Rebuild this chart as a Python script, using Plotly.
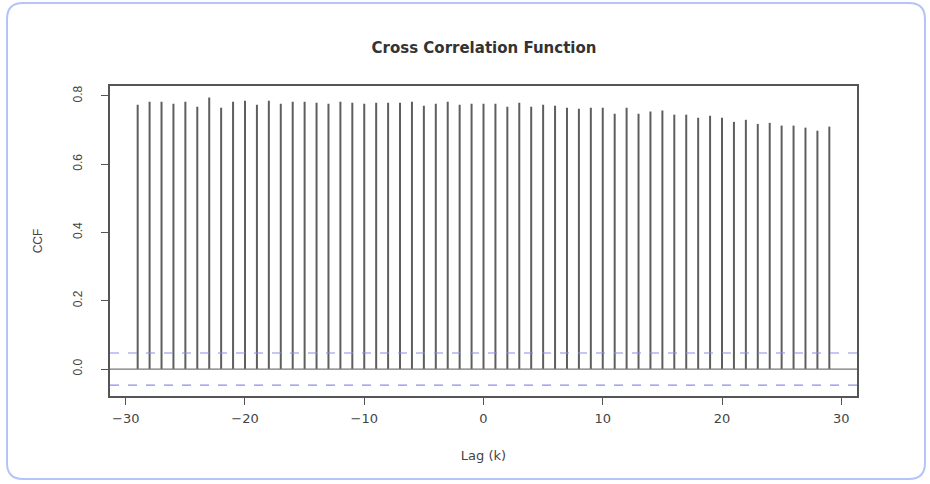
import plotly.graph_objects as go

lags = list(range(-29, 30))
ccf = [0.774, 0.783, 0.783, 0.777, 0.783, 0.768, 0.795, 0.765, 0.783, 0.786,
       0.774, 0.786, 0.777, 0.783, 0.783, 0.780, 0.777, 0.783, 0.780, 0.777,
       0.780, 0.780, 0.780, 0.783, 0.771, 0.777, 0.783, 0.774, 0.777, 0.777,
       0.777, 0.768, 0.780, 0.768, 0.774, 0.771, 0.765, 0.762, 0.765, 0.765,
       0.748, 0.765, 0.748, 0.754, 0.757, 0.745, 0.745, 0.736, 0.742, 0.736,
       0.724, 0.730, 0.718, 0.721, 0.713, 0.713, 0.707, 0.698, 0.710]
ci = 0.047
x_ticks = [-30, -20, -10, 0, 10, 20, 30]
y_ticks = [0.0, 0.2, 0.4, 0.6, 0.8]
y_tick_labels = ["0.0", "0.2", "0.4", "0.6", "0.8"]

xs, ys = [], []
for l, v in zip(lags, ccf):
    xs += [l, l, None]
    ys += [0, v, None]

W, H = 930, 484
L, R, T, B = 110, 73, 86, 88
pw, ph = W - L - R, H - T - B

def px(xp):
    return (xp - L) / pw

def py(yp):
    return (H - B - yp) / ph

fig = go.Figure()
fig.add_trace(go.Scatter(x=xs, y=ys, mode="lines",
                         line=dict(color="#5e5e5e", width=2), hoverinfo="skip",
                         showlegend=False))

fig.add_hline(y=0, line=dict(color="#777777", width=1.2))
fig.add_hline(y=ci, line=dict(color="#8a8ee8", width=1.2, dash="dash"))
fig.add_hline(y=-ci, line=dict(color="#8a8ee8", width=1.2, dash="dash"))

# rounded card border
x0, y0, x1, y1, r = 7, 3, 925, 479, 16
def P(a, b):
    return f"{px(a):.5f},{py(b):.5f}"
path = (f"M {P(x0 + r, y0)} L {P(x1 - r, y0)} Q {P(x1, y0)} {P(x1, y0 + r)} "
        f"L {P(x1, y1 - r)} Q {P(x1, y1)} {P(x1 - r, y1)} "
        f"L {P(x0 + r, y1)} Q {P(x0, y1)} {P(x0, y1 - r)} "
        f"L {P(x0, y0 + r)} Q {P(x0, y0)} {P(x0 + r, y0)} Z")
fig.add_shape(type="path", path=path, xref="paper", yref="paper",
              line=dict(color="#b4c4f7", width=2), layer="below")

fig.update_layout(
    width=W, height=H,
    margin=dict(l=L, r=R, t=T, b=B),
    paper_bgcolor="white", plot_bgcolor="white",
    font=dict(family="Liberation Sans, Arial, sans-serif", color="#444444", size=12),
    title=dict(text="<b>Cross Correlation Function</b>", x=(484 - L) / pw, xref="paper",
               xanchor="center", y=1 - 48 / H, yanchor="middle",
               font=dict(family="DejaVu Sans, sans-serif", size=15, color="#333333")),
    showlegend=False,
)
fig.update_xaxes(range=[-31.32, 31.32], tickvals=x_ticks,
                 ticktext=[str(v).replace("-", "\u2212") for v in x_ticks],
                 tickfont=dict(family="DejaVu Sans, sans-serif", size=13),
                 showgrid=False, zeroline=False, showline=True, mirror=True,
                 linecolor="#555555", linewidth=1.5, ticks="outside", ticklen=7,
                 tickcolor="#555555", ticklabelstandoff=3,
                 title=dict(text="Lag (k)", standoff=26,
                            font=dict(family="DejaVu Sans, sans-serif", size=13)))
fig.update_yaxes(range=[-0.079, 0.829], tickvals=y_ticks, ticktext=y_tick_labels,
                 tickangle=-90, showgrid=False, zeroline=False, showline=True,
                 mirror=True, linecolor="#555555", linewidth=1.5, ticks="outside",
                 ticklen=7, tickcolor="#555555", ticklabelstandoff=14,
                 title=dict(text="CCF", standoff=26, font=dict(size=12)))

fig.write_html("out.html", config={"displayModeBar": False},
               post_script="document.body.style.margin='0';")
